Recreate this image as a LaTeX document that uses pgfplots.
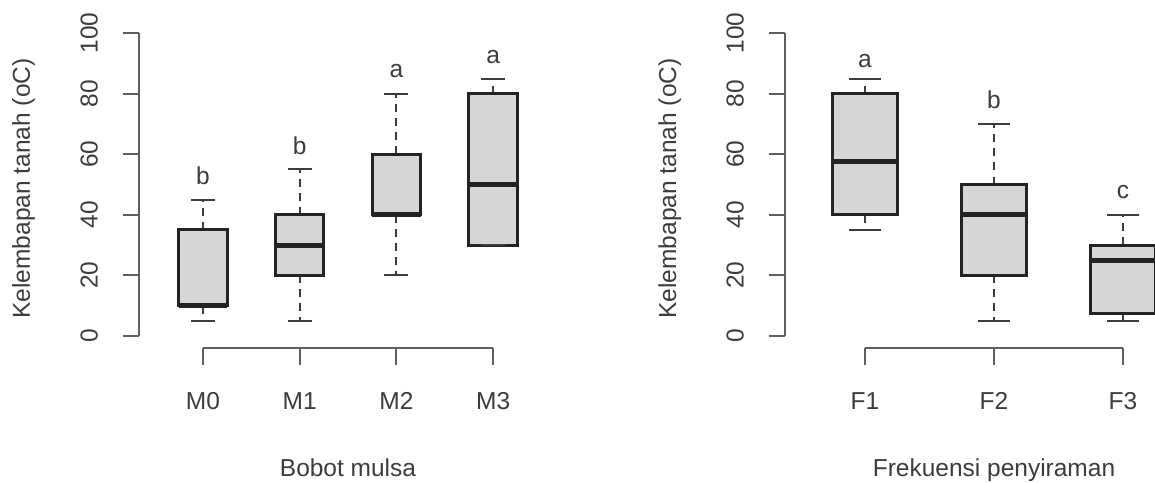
\documentclass[border=0pt]{standalone}
\usepackage{pgfplots}
\pgfplotsset{compat=1.18}
\usepgfplotslibrary{statistics}
\usepackage{fontspec}
\setmainfont{Liberation Sans}
\definecolor{txt}{RGB}{60,60,60}
\definecolor{axc}{RGB}{95,95,95}
\definecolor{boxfill}{RGB}{213,214,216}
\definecolor{boxline}{RGB}{35,35,35}
\definecolor{whisk}{RGB}{60,60,60}

\pgfplotsset{
  rstyle/.style={
    anchor=south west,
    scale only axis, width=418pt, height=327pt,
    ymin=-4, ymax=104,
    axis lines*=left, axis line style={draw=none},
    clip=false,
    ytick={0,20,40,60,80,100},
    tick align=outside, major tick length=16.5pt,
    tick style={axc, line width=2pt},
    font=\fontsize{24.5}{29}\selectfont,
    /pgf/number format/assume math mode=true,
    xticklabel style={anchor=base, inner sep=0pt, text=txt, yshift=-45pt},
    yticklabel style={xshift=-25pt, rotate=90, anchor=base, inner sep=0pt, text=txt},
    boxplot/draw direction=y,
    boxplot/box extend=0.5,
    boxplot/whisker extend=0,
    boxplot/every box/.style={draw=boxline, fill=boxfill, line width=3pt},
    boxplot/every median/.style={draw=boxline, line width=5pt},
    boxplot/every whisker/.style={draw=whisk, line width=2pt, dash pattern=on 8pt off 6pt},
  },
  rbox/.style={boxline, boxplot prepared={#1}},
}

\begin{document}
\begin{tikzpicture}
\useasboundingbox (0pt,0pt) rectangle (1155pt,482pt);
\clip (0pt,0pt) rectangle (1155pt,482pt);

% ---------------- Left panel ----------------
\begin{axis}[rstyle, at={(139pt,134pt)},
  xmin=0.34, xmax=4.66,
  xtick={1,2,3,4}, xticklabels={M0,M1,M2,M3}]
% whisker caps (min / max)
\addplot[only marks, mark=-, mark size=12pt, mark options={draw=whisk, line width=2pt}]
  coordinates {(1,5) (1,45) (2,5) (2,55) (3,20) (3,80) (4,30) (4,85)};
\addplot[rbox={draw position=1, lower whisker=5, lower quartile=10, median=10, upper quartile=35, upper whisker=45}] coordinates {};
\addplot[rbox={draw position=2, lower whisker=5, lower quartile=20, median=30, upper quartile=40, upper whisker=55}] coordinates {};
\addplot[rbox={draw position=3, lower whisker=20, lower quartile=40, median=40, upper quartile=60, upper whisker=80}] coordinates {};
\addplot[rbox={draw position=4, lower whisker=30, lower quartile=30, median=50, upper quartile=80, upper whisker=85}] coordinates {};
\draw[axc, line width=2pt] (axis cs:0.34,0) -- (axis cs:0.34,100);
\draw[axc, line width=2pt] (axis cs:1,-4) -- (axis cs:4,-4);
\node[anchor=base, text=txt] at (axis cs:1,50) {b};
\node[anchor=base, text=txt] at (axis cs:2,60) {b};
\node[anchor=base, text=txt] at (axis cs:3,85.5) {a};
\node[anchor=base, text=txt] at (axis cs:4,90) {a};
\node[anchor=base, text=txt] at ([yshift=-128pt]rel axis cs:0.5,0) {Bobot mulsa};
\node[rotate=90, anchor=base, text=txt] at ([xshift=-109pt, yshift=-4pt]rel axis cs:0,0.5) {Kelembapan tanah (oC)};
\end{axis}

% ---------------- Right panel ----------------
\begin{axis}[rstyle, at={(785pt,134pt)},
  xmin=0.38, xmax=3.62,
  xtick={1,2,3}, xticklabels={F1,F2,F3}]
\addplot[only marks, mark=-, mark size=16pt, mark options={draw=whisk, line width=2pt}]
  coordinates {(1,35) (1,85) (2,5) (2,70) (3,5) (3,40)};
\addplot[rbox={draw position=1, lower whisker=35, lower quartile=40, median=57.5, upper quartile=80, upper whisker=85}] coordinates {};
\addplot[rbox={draw position=2, lower whisker=5, lower quartile=20, median=40, upper quartile=50, upper whisker=70}] coordinates {};
\addplot[rbox={draw position=3, lower whisker=5, lower quartile=7.5, median=25, upper quartile=30, upper whisker=40}] coordinates {};
\draw[axc, line width=2pt] (axis cs:0.38,0) -- (axis cs:0.38,100);
\draw[axc, line width=2pt] (axis cs:1,-4) -- (axis cs:3,-4);
\node[anchor=base, text=txt] at (axis cs:1,88.5) {a};
\node[anchor=base, text=txt] at (axis cs:2,75) {b};
\node[anchor=base, text=txt] at (axis cs:3,45.5) {c};
\node[anchor=base, text=txt] at ([yshift=-128pt]rel axis cs:0.5,0) {Frekuensi penyiraman};
\node[rotate=90, anchor=base, text=txt] at ([xshift=-109pt, yshift=-4pt]rel axis cs:0,0.5) {Kelembapan tanah (oC)};
\end{axis}
\end{tikzpicture}
\end{document}
